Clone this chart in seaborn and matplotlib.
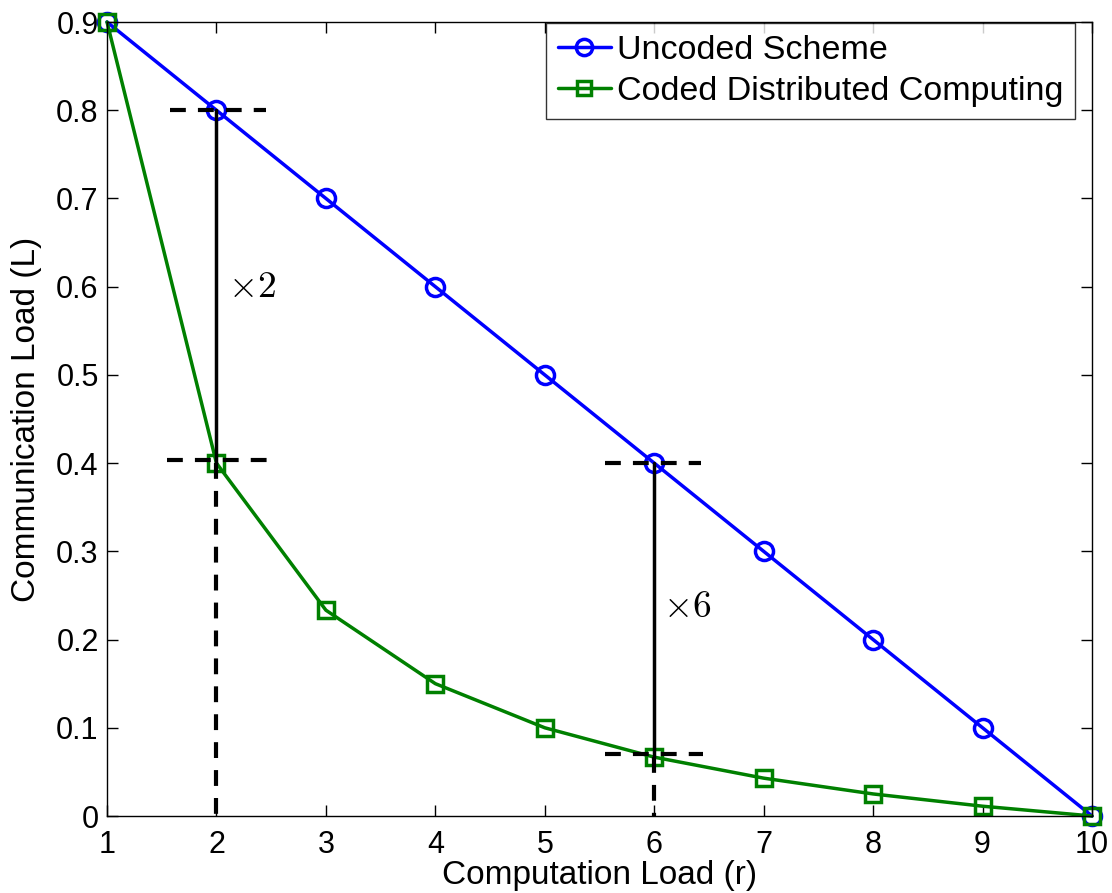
import numpy as np
import pandas as pd
import matplotlib
matplotlib.use("Agg")
import matplotlib.pyplot as plt
from matplotlib.lines import Line2D
import seaborn as sns

r_values = [1, 2, 3, 4, 5, 6, 7, 8, 9, 10]
uncoded = [0.9, 0.8, 0.7, 0.6, 0.5, 0.4, 0.3, 0.2, 0.1, 0.0]
coded = [0.9, 0.4, 0.2333, 0.15, 0.1, 0.0667, 0.0429, 0.025, 0.0111, 0.0]
series_names = ["Uncoded Scheme", "Coded Distributed Computing"]
x_ticks = [1, 2, 3, 4, 5, 6, 7, 8, 9, 10]
y_ticks = [0, 0.1, 0.2, 0.3, 0.4, 0.5, 0.6, 0.7, 0.8, 0.9]
y_tick_labels = ["0", "0.1", "0.2", "0.3", "0.4", "0.5", "0.6", "0.7", "0.8", "0.9"]

sns.set_theme(style="white")
plt.rcParams['font.family'] = ['Liberation Sans', 'DejaVu Sans']
plt.rcParams['mathtext.fontset'] = 'cm'
plt.rcParams['text.color'] = 'black'
plt.rcParams['axes.labelcolor'] = 'black'
plt.rcParams['xtick.color'] = 'black'
plt.rcParams['ytick.color'] = 'black'

df = pd.DataFrame({
    "r": r_values * 2,
    "L": uncoded + coded,
    "scheme": [series_names[0]] * len(r_values) + [series_names[1]] * len(r_values),
})

fig = plt.figure(figsize=(11.12, 8.93), dpi=100)
ax = fig.add_axes([107/1112, 1 - 816/893, (1092-107)/1112, (816-22)/893])

colors = ["#0000ff", "#008000"]
mks = ["o", "s"]
msizes = [13, 11]
palette = dict(zip(series_names, colors))
sns.lineplot(data=df, x="r", y="L", hue="scheme", style="scheme",
             markers=dict(zip(series_names, mks)),
             dashes=False, palette=palette, linewidth=2.5, ax=ax,
             markeredgewidth=2.5, legend=False)
for line, ms, c in zip(ax.get_lines()[:2], msizes, colors):
    line.set_markersize(ms)
    line.set_markerfacecolor("none")
    line.set_markeredgecolor(c)
    line.set_clip_on(False)

# annotations
kw = dict(color="black", linewidth=3, linestyle=(0, (3.8, 2.9)))
ax.plot([1.58, 2.45], [uncoded[1], uncoded[1]], **kw)
ax.plot([1.55, 2.48], [0.404, 0.404], **kw)
ax.plot([2, 2], [coded[1], 0], **kw)
ax.plot([2, 2], [uncoded[1], coded[1]], color="black", linewidth=2.5)
ax.plot([5.55, 6.43], [uncoded[5], uncoded[5]], **kw)
ax.plot([5.55, 6.45], [0.07, 0.07], **kw)
ax.plot([6, 6], [coded[5], 0], **kw)
ax.plot([6, 6], [uncoded[5], coded[5]], color="black", linewidth=2.5)
ax.text(2.11, 0.6, r"$\times 2$", fontsize=27, va="center", ha="left", color="black")
ax.text(6.08, 0.237, r"$\times 6$", fontsize=27, va="center", ha="left", color="black")

ax.set_xlim(1, 10)
ax.set_ylim(0, 0.9)
ax.set_xticks(x_ticks)
ax.set_yticks(y_ticks)
ax.set_yticklabels(y_tick_labels)
ax.tick_params(direction="in", length=8, width=1, labelsize=22, top=True, right=True,
               bottom=True, left=True, colors="black", labelcolor="black")
ax.tick_params(axis="x", pad=10)
ax.tick_params(axis="y", pad=6)
for s in ax.spines.values():
    s.set_color("black")
    s.set_linewidth(1)
ax.set_xlabel("Computation Load (r)", fontsize=24, labelpad=0, color="black")
ax.set_ylabel("Communication Load (L)", fontsize=24, labelpad=10, color="black")

handles = [Line2D([], [], color=c, marker=m, markersize=ms * 0.9, markerfacecolor="none",
                  markeredgecolor=c, markeredgewidth=2.5, linewidth=2.5)
           for c, m, ms in zip(colors, mks, msizes)]
leg = ax.legend(handles=handles, labels=series_names, loc="upper right",
                bbox_to_anchor=((1075 - 107) / 985, (816 - 23) / 794), fontsize=24.5,
                frameon=True, fancybox=False, edgecolor="black", borderaxespad=0,
                handlelength=1.56, handletextpad=0.18, labelspacing=0.3, borderpad=0.35)
leg.get_frame().set_linewidth(1)
for t in leg.get_texts():
    t.set_color("black")

fig.savefig("out.png", dpi=100, facecolor="white")
